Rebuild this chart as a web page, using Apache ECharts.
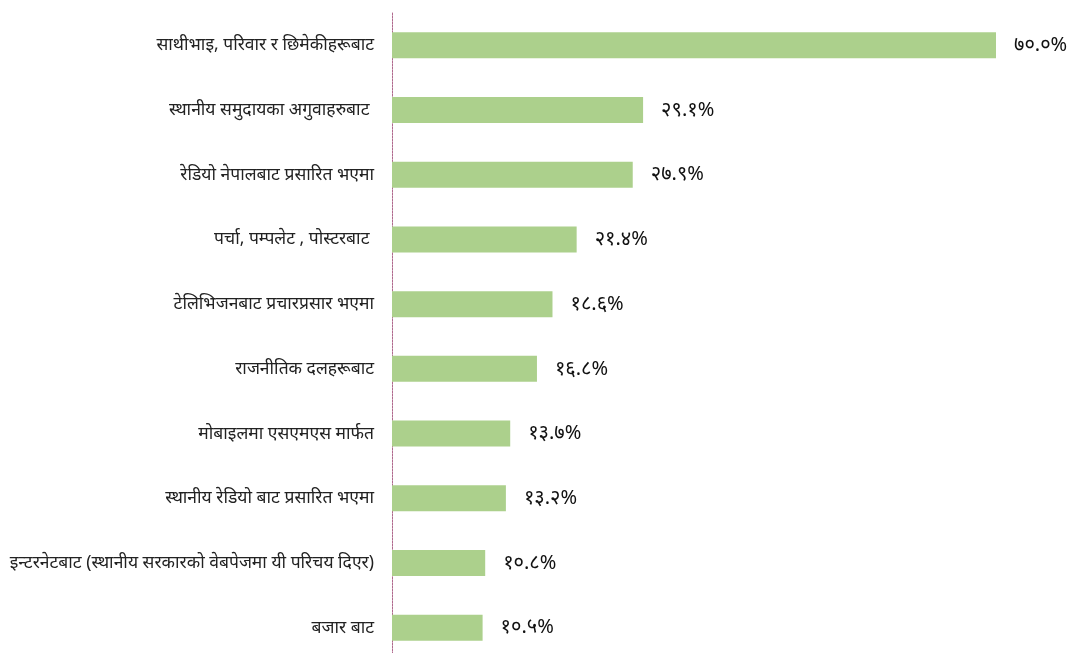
<!DOCTYPE html>
<html><head><meta charset="utf-8">
<script src="https://cdn.jsdelivr.net/npm/echarts@6/dist/echarts.min.js"></script>
<style>html,body{margin:0;padding:0;background:#fff;overflow:hidden}#c{width:1072px;height:660px}</style>
</head><body><div id="c"></div>
<script>
const categories = [
  "साथीभाइ, परिवार र छिमेकीहरूबाट",
  "स्थानीय समुदायका अगुवाहरुबाट ",
  "रेडियो नेपालबाट प्रसारित भएमा",
  "पर्चा, पम्पलेट , पोस्टरबाट ",
  "टेलिभिजनबाट प्रचारप्रसार भएमा",
  "राजनीतिक दलहरूबाट",
  "मोबाइलमा एसएमएस मार्फत",
  "स्थानीय रेडियो बाट प्रसारित भएमा",
  "इन्टरनेटबाट (स्थानीय सरकारको वेबपेजमा यी परिचय दिएर)",
  "बजार बाट"
];
const values = [70.0, 29.1, 27.9, 21.4, 18.6, 16.8, 13.7, 13.2, 10.8, 10.5];
const valueLabels = ["७०.०%", "२९.१%", "२७.९%", "२१.४%", "१८.६%", "१६.८%", "१३.७%", "१३.२%", "१०.८%", "१०.५%"];

const chart = echarts.init(document.getElementById('c'));
chart.setOption({
  animation: false,
  grid: { left: 392, right: 76, top: 13, bottom: 0, containLabel: false },
  xAxis: { type: 'value', min: 0, max: 70, show: false },
  yAxis: {
    type: 'category', inverse: true, data: categories,
    axisLine: { show: true, lineStyle: { color: '#b06a8e', type: [2, 1], width: 1 } },
    axisTick: { show: false },
    axisLabel: { color: '#222', fontSize: 17.5, margin: 18, fontFamily: 'Noto Sans, sans-serif' }
  },
  series: [{
    type: 'bar', data: values, barWidth: 26,
    itemStyle: { color: '#acd08c' },
    label: {
      show: true, position: 'right', distance: 18,
      color: '#111', fontSize: 20, fontFamily: 'Noto Sans, sans-serif',
      formatter: p => valueLabels[p.dataIndex]
    }
  }]
});
</script></body></html>
